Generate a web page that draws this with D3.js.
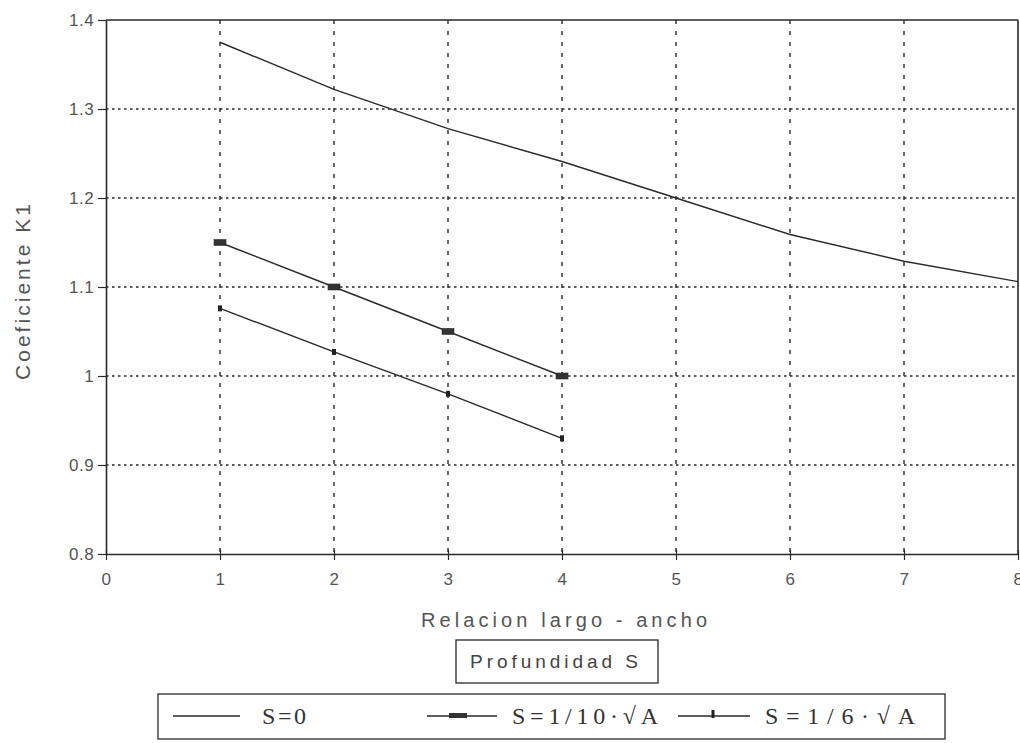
<!DOCTYPE html>
<html><head><meta charset="utf-8">
<script src="https://cdn.jsdelivr.net/npm/d3@7"></script>
<style>
html,body{margin:0;padding:0;background:#fff;}
svg{display:block;}
</style></head>
<body>
<svg id="chart" width="1020" height="743"></svg>
<script>
// ---- data ----
const xTickValues = [0,1,2,3,4,5,6,7,8];
const xTickLabels = ["0","1","2","3","4","5","6","7","8"];
const yTickValues = [0.8,0.9,1.0,1.1,1.2,1.3,1.4];
const yTickLabels = ["0.8","0.9","1","1.1","1.2","1.3","1.4"];
const xS0 = [1,2,3,4,5,6,7,8];
const yS0 = [1.375,1.322,1.278,1.241,1.200,1.159,1.129,1.106];
const xS10 = [1,2,3,4];
const yS10 = [1.150,1.100,1.050,1.000];
const xS6 = [1,2,3,4];
const yS6 = [1.076,1.027,0.980,0.930];
const seriesNames = ["S=0","S=1/10·√A","S=1/6·√A"];
const xTitle = "Relacion largo - ancho";
const yTitle = "Coeficiente K1";
const legendTitle = "Profundidad S";

const svg = d3.select("#chart");
const ink = "#2a2a2a", textCol = "#555";
const sans = "Liberation Sans, Arial, sans-serif";
const x = d3.scaleLinear().domain([0,8]).range([106,1018]);
const y = d3.scaleLinear().domain([0.8,1.4]).range([554,20]);

// grid
svg.append("g").selectAll("line").data(xTickValues.slice(1,-1)).join("line")
  .attr("x1",d=>x(d)).attr("x2",d=>x(d)).attr("y1",y(1.4)).attr("y2",y(0.8))
  .attr("stroke",ink).attr("stroke-width",1.4).attr("stroke-dasharray","4,7");
svg.append("g").selectAll("line").data(yTickValues.slice(1,-1)).join("line")
  .attr("x1",x(0)).attr("x2",x(8)).attr("y1",d=>y(d)).attr("y2",d=>y(d))
  .attr("stroke",ink).attr("stroke-width",1.4).attr("stroke-dasharray","2.5,3.5");

// frame top/right
svg.append("line").attr("x1",x(0)).attr("x2",x(8)).attr("y1",y(1.4)).attr("y2",y(1.4)).attr("stroke",ink).attr("stroke-width",1.6);
svg.append("line").attr("x1",x(8)).attr("x2",x(8)).attr("y1",y(1.4)).attr("y2",y(0.8)).attr("stroke",ink).attr("stroke-width",1.6);

// axes
const xAxis = d3.axisBottom(x).tickValues(xTickValues).tickFormat((d,i)=>xTickLabels[i]).tickSize(6).tickSizeOuter(0);
const gx = svg.append("g").attr("transform",`translate(0,${y(0.8)})`).call(xAxis);
const yAxis = d3.axisLeft(y).tickValues(yTickValues).tickFormat((d,i)=>yTickLabels[i]).tickSize(8).tickSizeOuter(0);
const gy = svg.append("g").attr("transform",`translate(${x(0)},0)`).call(yAxis);
[gx,gy].forEach(g=>{
  g.select(".domain").attr("stroke",ink).attr("stroke-width",1.6);
  g.selectAll(".tick line").attr("stroke",ink).attr("stroke-width",1.2);
  g.selectAll("text").attr("fill",textCol).attr("font-family",sans).attr("font-size",17).attr("letter-spacing",0.5);
});
gx.selectAll(".tick line").attr("y1",-4);
gx.selectAll("text").attr("y",19).attr("dy","0.71em");
gy.selectAll("text").attr("dx","-0.05em");

// lines
const line = d3.line().x(d=>x(d[0])).y(d=>y(d[1]));
const d0 = xS0.map((v,i)=>[v,yS0[i]]);
const d10 = xS10.map((v,i)=>[v,yS10[i]]);
const d6 = xS6.map((v,i)=>[v,yS6[i]]);
[d0,d10,d6].forEach(d=>svg.append("path").datum(d).attr("d",line).attr("fill","none").attr("stroke",ink).attr("stroke-width",1.4));

// markers
svg.append("g").selectAll("rect").data(d10).join("rect")
  .attr("x",d=>x(d[0])-6).attr("y",d=>y(d[1])-3).attr("width",12).attr("height",6)
  .attr("fill","#333").attr("stroke",ink).attr("stroke-width",0.6);
svg.append("g").selectAll("rect").data(d6).join("rect")
  .attr("x",d=>x(d[0])-2).attr("y",d=>y(d[1])-3).attr("width",4).attr("height",6)
  .attr("fill","#222");

// axis titles
svg.append("text").attr("x",564).attr("y",627).attr("text-anchor","middle")
  .attr("font-family",sans).attr("font-size",20).attr("fill",textCol)
  .attr("textLength",286).attr("lengthAdjust","spacing").text(xTitle);
svg.append("text").attr("transform","translate(30,292) rotate(-90)").attr("text-anchor","middle")
  .attr("font-family",sans).attr("font-size",21).attr("fill",textCol)
  .attr("textLength",176).attr("lengthAdjust","spacing").text(yTitle);

// legend title box
svg.append("rect").attr("x",456).attr("y",640).attr("width",202).attr("height",43)
  .attr("fill","none").attr("stroke",ink).attr("stroke-width",1.3);
svg.append("text").attr("x",470).attr("y",668)
  .attr("font-family",sans).attr("font-size",19).attr("fill","#444")
  .attr("textLength",168).attr("lengthAdjust","spacing").text(legendTitle);

// legend box
svg.append("rect").attr("x",158).attr("y",694).attr("width",787).attr("height",45)
  .attr("fill","none").attr("stroke",ink).attr("stroke-width",1.3);
const legItems = [
  {x1:173,x2:240,mx:null,tx:262,tl:44,m:null},
  {x1:427,x2:497,mx:458,tx:512,tl:146,m:"rect"},
  {x1:678,x2:750,mx:713,tx:765,tl:150,m:"tick"}
];
legItems.forEach((it,i)=>{
  const ly = 716;
  svg.append("line").attr("x1",it.x1).attr("x2",it.x2).attr("y1",ly).attr("y2",ly).attr("stroke",ink).attr("stroke-width",1.4);
  if(it.m==="rect") svg.append("rect").attr("x",it.mx-9).attr("y",ly-3).attr("width",18).attr("height",5).attr("fill","#333");
  if(it.m==="tick") svg.append("rect").attr("x",it.mx-1.5).attr("y",ly-6).attr("width",3).attr("height",8).attr("fill","#222");
  svg.append("text").attr("x",it.tx).attr("y",ly+8).attr("font-family","Liberation Serif, serif")
    .attr("font-size",24).attr("fill","#333")
    .attr("textLength",it.tl).attr("lengthAdjust","spacing").text(seriesNames[i]);
});
</script>
</body></html>
